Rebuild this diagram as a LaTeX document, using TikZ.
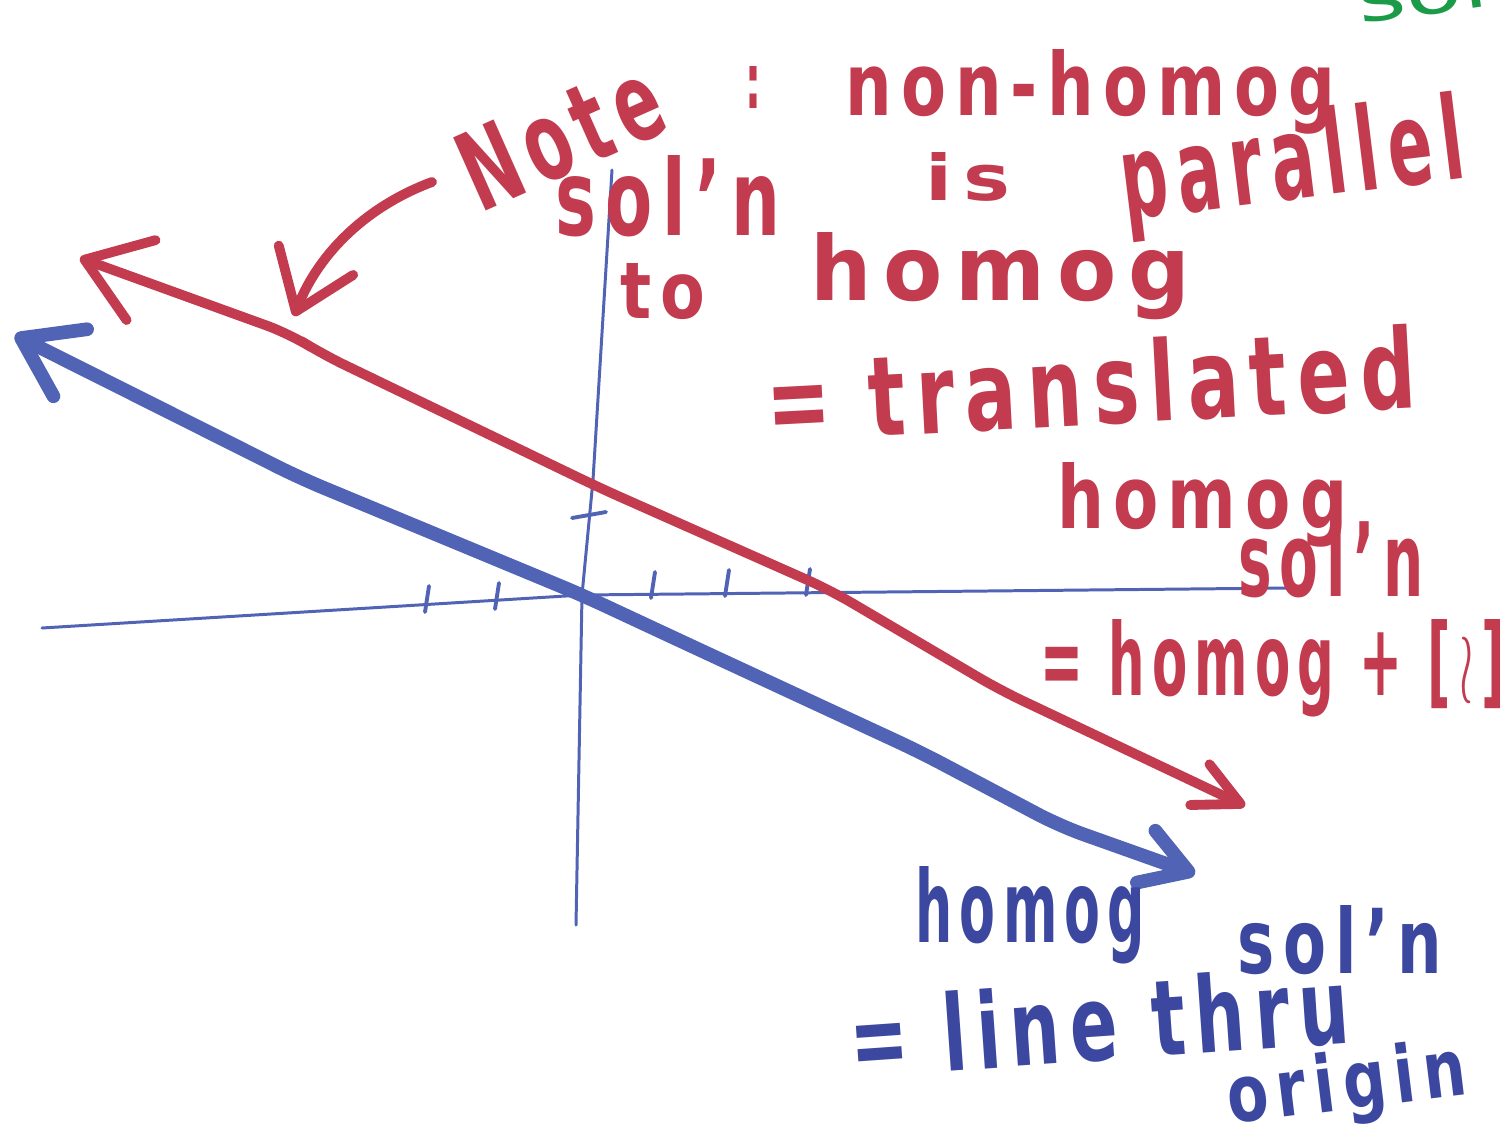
\documentclass[tikz,border=0pt]{standalone}
\usepackage{fontspec}
\setmainfont{DejaVu Sans}
\usetikzlibrary{arrows.meta}
\definecolor{notered}{HTML}{C23B4E}
\definecolor{penblue}{HTML}{5063B5}
\definecolor{inkblue}{HTML}{3C48A0}
\definecolor{pengreen}{HTML}{1B9B48}
\newlength\pxu
\setlength\pxu{0.02cm}
% width and height (above the baseline) in pixels of the sketch
\newcommand\hand[3]{\resizebox{#1\pxu}{#2\pxu}{#3}}
\begin{document}
\begin{tikzpicture}[
  x=0.02cm, y=-0.02cm,
  axis/.style={penblue, line width=1.7pt, line cap=round, line join=round},
  tickmark/.style={penblue, line width=2.2pt, line cap=round},
  redline/.style={notered, line width=5.6pt, line cap=round, line join=round, rounded corners=14pt},
  blueline/.style={penblue, line width=7.8pt, line cap=round, line join=round, rounded corners=14pt},
  redtxt/.style={text=notered, inner sep=0pt, anchor=base west, font=\bfseries\addfontfeatures{LetterSpace=14}},
  bluetxt/.style={text=inkblue, inner sep=0pt, anchor=base west, font=\bfseries\addfontfeatures{LetterSpace=14}}
]
\useasboundingbox (0,0) rectangle (1508,1147);
\clip (0,0) rectangle (1508,1147);
% axes
\coordinate (o) at (582,595);
\draw[axis] (42,628) -- (o) -- (1290,588);
\draw[axis] (612,170) -- (593,480) -- (o) -- (576,925);
\foreach \tx/\ty in {427/606, 497/603, 653/592, 727/590, 808/589}
  \draw[tickmark] (\tx+2,\ty-20) -- (\tx-2,\ty+6);
\draw[tickmark] (572,518) -- (606,512);
% homogeneous solution
\coordinate (bL) at (15,335);
\coordinate (bR) at (1195,874);
\draw[blueline, {Straight Barb[round, length=1.1cm, width=1.5cm]}-{Straight Barb[round, length=0.9cm, width=1.1cm]}]
  (bL) -- (300,478) -- (o) -- (700,650) -- (920,752) -- (1060,826) -- (bR);
% non-homogeneous solution
\coordinate (rL) at (80,258);
\coordinate (rR) at (1245,806);
\draw[redline, {Straight Barb[round, length=1.2cm, width=1.7cm]}-{Straight Barb[round, length=0.9cm, width=0.9cm]}]
  (rL) -- (290,334) -- (322,354) -- (600,488) -- (830,590) -- (1000,690) -- (rR);
% note pointer
\coordinate (nS) at (432,182);
\coordinate (nE) at (294,316);
\draw[redline, {Straight Barb[round, length=1.1cm, width=1.6cm]}-{}]
  (nE) .. controls (320,250) and (370,205) .. (nS);
% red text
\node[redtxt, rotate=24] (note) at (480,214) {\hand{210}{80}{Note}};
\node[redtxt] (colon) at (745,108) {\hand{16}{42}{:}};
\node[redtxt] (nonhomog) at (845,115) {\hand{490}{66}{non-homog}};
\node[redtxt] (soln) at (555,235) {\hand{225}{80}{sol'n}};
\node[redtxt] (is) at (925,200) {\hand{85}{48}{is}};
\node[redtxt, rotate=7] (parallel) at (1125,220) {\hand{345}{88}{parallel}};
\node[redtxt] (to) at (620,318) {\hand{85}{55}{to}};
\node[redtxt] (homogA) at (810,300) {\hand{380}{68}{homog}};
\node[redtxt, rotate=3] (translated) at (768,442) {\hand{650}{84}{= translated}};
\node[redtxt] (homogB) at (1057,528) {\hand{290}{66}{homog}};
\node[redtxt] (solnB) at (1238,596) {\hand{185}{78}{sol'n}};
\node[redtxt] (sum) at (1040,695) {\hand{465}{76}{= homog + [\,$\wr$\,]}};
% blue text
\node[bluetxt] (homogC) at (915,942) {\hand{230}{76}{homog}};
\node[bluetxt] (solnC) at (1237,973) {\hand{205}{68}{sol'n}};
\node[bluetxt, rotate=4] (linethru) at (852,1078) {\hand{500}{80}{= line thru}};
\node[bluetxt, rotate=7] (origin) at (1230,1124) {\hand{240}{60}{origin}};
% cut-off note
\node[text=pengreen, inner sep=0pt, anchor=base west, rotate=8] (green) at (1360,24) {\hand{220}{50}{sol'n}};
\end{tikzpicture}
\end{document}
